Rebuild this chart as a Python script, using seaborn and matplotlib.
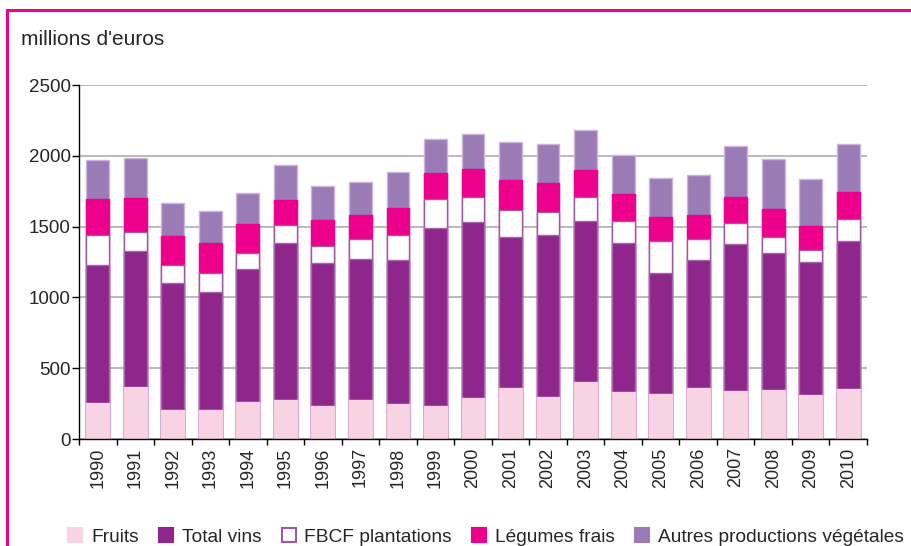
import matplotlib
matplotlib.use("Agg")
import matplotlib.pyplot as plt
import seaborn as sns
import numpy as np
import pandas as pd
from matplotlib.patches import Rectangle, Patch

years = [str(y) for y in range(1990, 2011)]
fruits = [251, 364, 207, 207, 261, 277, 235, 277, 249, 230, 289, 360, 300, 404, 329, 319, 357, 336, 348, 312, 353]
vins = [978, 963, 893, 834, 940, 1105, 1010, 996, 1015, 1258, 1241, 1064, 1140, 1137, 1057, 851, 907, 1039, 968, 936, 1047]
fbcf = [211, 132, 129, 134, 115, 131, 118, 139, 174, 204, 180, 190, 160, 165, 155, 230, 146, 148, 112, 87, 151]
legumes = [252, 244, 204, 207, 200, 176, 185, 171, 191, 188, 196, 214, 205, 197, 186, 169, 171, 183, 193, 171, 190]
autres = [279, 278, 235, 228, 223, 247, 236, 231, 255, 239, 246, 266, 275, 278, 282, 275, 282, 362, 357, 329, 341]

labels = ["Fruits", "Total vins", "FBCF plantations", "Légumes frais", "Autres productions végétales"]
series = [fruits, vins, fbcf, legumes, autres]
faces = ["#F8D3E4", "#8E268B", "#FFFFFF", "#EC008C", "#9A7BB5"]
edges = ["#F8D3E4", "#A266A8", "#9C5AA0", "#EC008C", "#C9B6DA"]

sns.set_style("white")
plt.rcParams["font.family"] = ["Liberation Sans", "DejaVu Sans"]

fig = plt.figure(figsize=(9.12, 5.46), dpi=100)
ax = fig.add_axes([79/912, 1-439/546, (867-79)/912, (439-85)/546])

cum = np.cumsum(np.array(series), axis=0)
df = pd.DataFrame({"year": years})
for i in range(len(series) - 1, -1, -1):
    df["v"] = cum[i]
    sns.barplot(data=df, x="year", y="v", color=faces[i], edgecolor=edges[i],
                linewidth=1.0, width=0.61, saturation=1, ax=ax, zorder=3)

ax.set_xlim(-0.5, len(years) - 0.5)
ax.set_ylim(0, 2500)
ax.set_yticks([0, 500, 1000, 1500, 2000, 2500])
ax.yaxis.grid(True, color="#B4B4B4", linewidth=1.3, zorder=0)
ax.set_axisbelow(True)
ax.set_xlabel("")
ax.set_ylabel("")
for s in ["top", "right"]:
    ax.spines[s].set_visible(False)
for s in ["left", "bottom"]:
    ax.spines[s].set_color("black")
    ax.spines[s].set_linewidth(1.0)
    ax.spines[s].set_zorder(5)

ax.tick_params(axis="y", which="major", length=5, width=1, color="black",
               labelsize=13.5, pad=1, left=True)
ax.tick_params(axis="x", which="major", length=0, labelsize=13, pad=6,
               labelrotation=90)
ax.set_xticks(np.arange(-0.5, len(years), 1.0), minor=True)
ax.tick_params(axis="x", which="minor", length=4, width=1, color="black", bottom=True)

fig.text(21/912, 1-45/546, "millions d'euros", fontsize=15, ha="left", va="baseline")

handles = [Patch(facecolor=faces[i], edgecolor=edges[i] if i == 2 else faces[i],
                 linewidth=1.5) for i in range(5)]
fig.legend(handles, labels, loc="center", bbox_to_anchor=(486/912, 1-537/546),
           ncol=5, frameon=False, fontsize=13.8, handlelength=0.73, handleheight=0.73,
           handletextpad=0.46, columnspacing=1.05, borderaxespad=0, borderpad=0)

fig.add_artist(Rectangle((7/912, -0.2), 1.2, 1.2 - 10/546, transform=fig.transFigure,
                         fill=False, edgecolor="#EC008C", linewidth=2.2))

fig.savefig("out.png", dpi=100)
